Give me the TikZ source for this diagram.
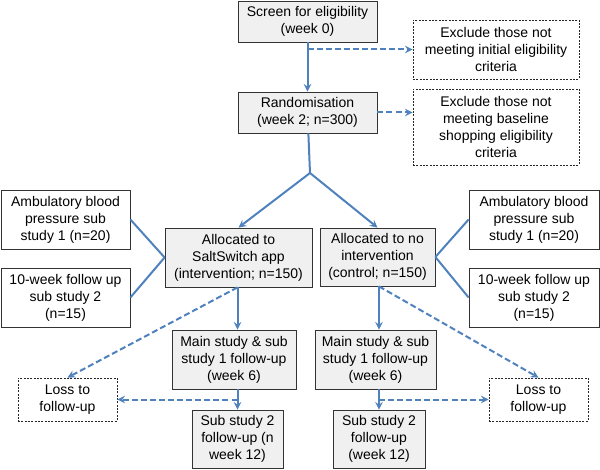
\documentclass[tikz,border=0pt]{standalone}
\usepackage{fontspec}
\setmainfont{Liberation Sans}
\usepackage{tikz}
\definecolor{flowblue}{RGB}{79,129,189}
\tikzset{
	greystyle/.style={rectangle,draw=black!80,fill=black!6,align=center,inner sep=0pt,line width=0.6pt},
	whitestyle/.style={rectangle,draw=black!80,fill=white,align=center,inner sep=0pt,line width=0.6pt},
	dottedstyle/.style={rectangle,draw=black!85,dash pattern=on 1.5pt off 1pt,fill=white,align=center,inner sep=0pt,line width=0.6pt},
	bluestyle/.style={draw=flowblue,line width=1.5pt},
	bluedashstyle/.style={draw=flowblue,line width=1.5pt,dash pattern=on 4.5pt off 2.3pt}
}

\begin{document}
\begin{tikzpicture}[x=0.75pt,y=-0.75pt]
		\fontsize{10.5}{12.75}\selectfont
		\useasboundingbox (0,0) rectangle (600,470);
		\node[greystyle,minimum width=104.25pt,minimum height=30.75pt] (screen) at (307.5,21.5) {Screen for eligibility\\(week 0)};
		\node[dottedstyle,minimum width=124.5pt,minimum height=44.25pt] (excl1) at (496,49.5) {Exclude those not\\meeting initial eligibility\\criteria};
		\node[greystyle,minimum width=104.25pt,minimum height=30.75pt] (rand) at (307.5,112.5) {Randomisation\\(week 2; n=300)};
		\node[dottedstyle,minimum width=124.5pt,minimum height=57pt] (excl2) at (496,127) {Exclude those not\\meeting baseline\\shopping eligibility\\criteria};
		\coordinate (split) at (310,173);
		\node[greystyle,minimum width=110.25pt,minimum height=44.25pt] (allocL) at (238.5,257.5) {Allocated to\\SaltSwitch app\\(intervention; n=150)};
		\node[greystyle,minimum width=86.25pt,minimum height=43.5pt] (allocR) at (377.5,257) {Allocated to no\\intervention\\(control; n=150)};
		\node[whitestyle,minimum width=96.75pt,minimum height=44.25pt] (ambL) at (65.5,219.5) {Ambulatory blood\\pressure sub\\study 1 (n=20)};
		\node[whitestyle,minimum width=96.75pt,minimum height=44.25pt] (tenL) at (65.5,297.5) {10-week follow up\\sub study 2\\(n=15)};
		\node[whitestyle,minimum width=97.5pt,minimum height=44.25pt] (ambR) at (534,219.5) {Ambulatory blood\\pressure sub\\study 1 (n=20)};
		\node[whitestyle,minimum width=97.5pt,minimum height=44.25pt] (tenR) at (534,297.5) {10-week follow up\\sub study 2\\(n=15)};
		\node[greystyle,minimum width=93pt,minimum height=44.25pt] (mainL) at (234,359.5) {Main study \& sub\\study 1 follow-up\\(week 6)};
		\node[greystyle,minimum width=90.75pt,minimum height=44.25pt] (mainR) at (375.5,359.5) {Main study \& sub\\study 1 follow-up\\(week 6)};
		\node[greystyle,minimum width=68.25pt,minimum height=43.5pt] (subL) at (237.5,439) {Sub study 2\\follow-up (n\\week 12)};
		\node[greystyle,minimum width=69pt,minimum height=43.5pt] (subR) at (379,439) {Sub study 2\\follow-up\\(week 12)};
		\node[dottedstyle,minimum width=74.25pt,minimum height=32.25pt] (lossL) at (67.5,399.5) {Loss to\\follow-up};
		\node[dottedstyle,minimum width=74.25pt,minimum height=32.25pt] (lossR) at (538.5,399.5) {Loss to\\follow-up};
		\draw[bluestyle,-stealth] (screen) -- (rand);
		\draw[bluedashstyle,-stealth] (screen.south |- excl1.west) -- (excl1.west);
		\draw[bluedashstyle,-stealth] (rand.east) -- (rand.east -| excl2.west);
		\draw[bluestyle] (rand) -- (split);
		\draw[bluestyle,-stealth] (split) -- (allocL.north);
		\draw[bluestyle,-stealth] (split) -- (allocR.north);
		\draw[bluestyle] (allocL.west) -- (ambL.east);
		\draw[bluestyle] (allocL.west) -- (tenL.east);
		\draw[bluestyle] (allocR.east) -- (ambR.west);
		\draw[bluestyle] (allocR.east) -- (tenR.west);
		\draw[bluestyle,-stealth] (subL.north |- allocL.south) -- (subL.north |- mainL.north);
		\draw[bluestyle,-stealth] (subL.north |- mainL.south) -- (subL.north);
		\draw[bluestyle,-stealth] (subR.north |- allocR.south) -- (subR.north |- mainR.north);
		\draw[bluestyle,-stealth] (subR.north |- mainR.south) -- (subR.north);
		\draw[bluedashstyle,-stealth] (subL.north |- allocL.south) -- (lossL.north);
		\draw[bluedashstyle,-stealth] (subL.north |- lossL.east) -- (lossL.east);
		\draw[bluedashstyle,-stealth] (subR.north |- allocR.south) -- (lossR.north);
		\draw[bluedashstyle,-stealth] (subR.north |- lossR.west) -- (lossR.west);
		\end{tikzpicture}
\end{document}
